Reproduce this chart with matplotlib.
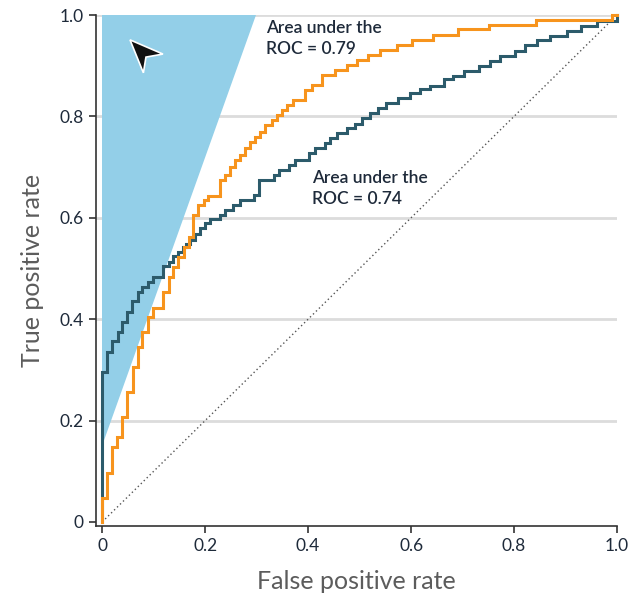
import matplotlib
matplotlib.use("Agg")
import matplotlib.pyplot as plt
from matplotlib.patches import Polygon

# ROC curve 1 (AUC 0.79) - tops of each vertical riser
fpr_a = [0.0, 0.0, 0.009, 0.019, 0.029, 0.038, 0.049, 0.059, 0.069, 0.078, 0.088,
         0.098, 0.119, 0.129, 0.138, 0.148, 0.158, 0.168, 0.177, 0.187, 0.197,
         0.206, 0.228, 0.239, 0.249, 0.258, 0.268, 0.278, 0.287, 0.297, 0.307,
         0.317, 0.330, 0.339, 0.349, 0.359, 0.371, 0.394, 0.407, 0.427, 0.452,
         0.475, 0.495, 0.517, 0.540, 0.572, 0.601, 0.643, 0.692, 0.752, 0.842,
         0.990, 1.0]
tpr_a = [0.0, 0.047, 0.096, 0.147, 0.167, 0.207, 0.256, 0.306, 0.346, 0.374, 0.405,
         0.423, 0.454, 0.483, 0.502, 0.523, 0.543, 0.563, 0.606, 0.625, 0.635,
         0.643, 0.675, 0.684, 0.701, 0.714, 0.724, 0.737, 0.750, 0.760, 0.770,
         0.783, 0.793, 0.803, 0.813, 0.822, 0.832, 0.852, 0.862, 0.882, 0.892,
         0.901, 0.911, 0.921, 0.931, 0.941, 0.951, 0.961, 0.972, 0.980, 0.991,
         1.0, 1.0]

# ROC curve 2 (AUC 0.74)
fpr_b = [0.0, 0.0, 0.010, 0.019, 0.030, 0.038, 0.049, 0.058, 0.069, 0.077, 0.088,
         0.098, 0.119, 0.129, 0.138, 0.148, 0.156, 0.163, 0.171, 0.181, 0.190,
         0.200, 0.210, 0.228, 0.239, 0.255, 0.267, 0.295, 0.305, 0.333, 0.344,
         0.362, 0.375, 0.401, 0.414, 0.433, 0.443, 0.456, 0.475, 0.491, 0.504,
         0.520, 0.536, 0.551, 0.575, 0.598, 0.617, 0.637, 0.663, 0.682, 0.702,
         0.731, 0.753, 0.773, 0.802, 0.821, 0.844, 0.870, 0.902, 0.931, 0.961,
         1.0]
tpr_b = [0.0, 0.296, 0.336, 0.356, 0.375, 0.395, 0.415, 0.435, 0.454, 0.464, 0.474,
         0.484, 0.504, 0.513, 0.525, 0.533, 0.542, 0.548, 0.556, 0.569, 0.579,
         0.589, 0.597, 0.606, 0.615, 0.625, 0.635, 0.645, 0.675, 0.684, 0.694,
         0.704, 0.714, 0.727, 0.737, 0.747, 0.757, 0.767, 0.777, 0.786, 0.796,
         0.806, 0.816, 0.826, 0.836, 0.846, 0.854, 0.860, 0.874, 0.880, 0.890,
         0.900, 0.910, 0.920, 0.930, 0.940, 0.950, 0.959, 0.969, 0.979, 0.988,
         1.0]

# shaded region (FPR, TPR vertices)
shade_x = [0.0, 0.0, 0.299]
shade_y = [0.149, 1.0, 1.0]

# cursor icon vertices
cursor_x = [0.054, 0.118, 0.085, 0.080]
cursor_y = [0.951, 0.923, 0.917, 0.886]

ticks = [0, 0.2, 0.4, 0.6, 0.8, 1.0]
tick_labels = ["0", "0.2", "0.4", "0.6", "0.8", "1.0"]

label_a = "Area under the\nROC = 0.79"
label_b = "Area under the\nROC = 0.74"

ORANGE = "#f7941d"
TEAL = "#2c5b6b"
BLUE = "#93cfe8"
NAVY = "#1e2a3a"
GRAY = "#5c5c5c"

plt.rcParams["font.family"] = ["Lato", "DejaVu Sans"]

fig = plt.figure(figsize=(6.33, 6.01), dpi=100)
ax = fig.add_axes([0.1517, 0.1248, 0.823, 0.8502])

ax.set_xlim(-0.012, 1.0)
ax.set_ylim(-0.008, 1.0)

for t in ticks[1:]:
    ax.axhline(t, color="#dcdcdc", lw=2, zorder=0)

ax.add_patch(Polygon(list(zip(shade_x, shade_y)), closed=True, facecolor=BLUE,
                     edgecolor="none", zorder=1))

ax.plot([0, 1], [0, 1], linestyle=(0, (1, 2)), color="#555555", lw=1, zorder=2)

ax.step(fpr_b, tpr_b, where="post", color=TEAL, lw=2.2, zorder=3, clip_on=False,
        solid_joinstyle="miter")
ax.step(fpr_a, tpr_a, where="post", color=ORANGE, lw=2.2, zorder=4, clip_on=False,
        solid_joinstyle="miter")

ax.add_patch(Polygon(list(zip(cursor_x, cursor_y)), closed=True, facecolor="#111111",
                     edgecolor="white", lw=1.2, zorder=5))

ax.text(0.318, 0.990, label_a, ha="left", va="top", fontsize=12.5, color=NAVY,
        fontweight="semibold", linespacing=1.35)
ax.text(0.408, 0.694, label_b, ha="left", va="top", fontsize=12.5, color=NAVY,
        fontweight="semibold", linespacing=1.35)

ax.set_xticks(ticks)
ax.set_xticklabels(tick_labels)
ax.set_yticks(ticks)
ax.set_yticklabels(tick_labels)
ax.tick_params(axis="both", direction="out", length=5, width=1.2, color="#333333",
               labelsize=12.5, labelcolor=NAVY, pad=4)

for s in ["top", "right"]:
    ax.spines[s].set_visible(False)
for s in ["left", "bottom"]:
    ax.spines[s].set_color("#333333")
    ax.spines[s].set_linewidth(1.2)

ax.set_xlabel("False positive rate", fontsize=18, color=GRAY, labelpad=11,
              fontweight="normal")
ax.set_ylabel("True positive rate", fontsize=18, color=GRAY, labelpad=11,
              fontweight="normal")

fig.savefig("out.png", dpi=100)
